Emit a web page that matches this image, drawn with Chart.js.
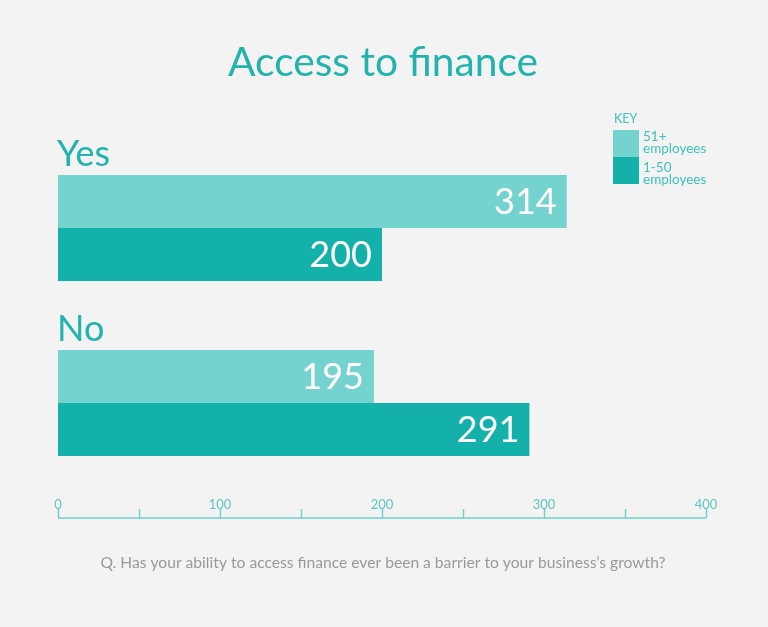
<!DOCTYPE html>
<html>
<head>
<meta charset="utf-8">
<script src="https://cdn.jsdelivr.net/npm/chart.js@4.4.1/dist/chart.umd.min.js"></script>
<style>
html,body{margin:0;padding:0;background:#f3f3f3;}
#wrap{position:relative;width:768px;height:627px;}
</style>
</head>
<body>
<div id="wrap"><canvas id="c" width="768" height="627"></canvas></div>
<script>
const categories = ["Yes", "No"];
const seriesNames = ["51+ employees", "1-50 employees"];
const large = [314, 195];
const small = [200, 291];
const tickValues = [0, 100, 200, 300, 400];
const minorTickValues = [50, 150, 250, 350];
const titleText = "Access to finance";
const footerText = "Q. Has your ability to access finance ever been a barrier to your business\u2019s growth?";

const LIGHT = "#74d3ce";
const DARK = "#14b1ab";
const TEAL = "#22b3ad";
const FONT = "Lato, 'Noto Sans', sans-serif";

function fitFont(ctx, text, width, weight) {
  let size = 40;
  ctx.font = weight + " " + size + "px " + FONT;
  const w = ctx.measureText(text).width;
  return size * width / w;
}

const decor = {
  id: "decor",
  afterDatasetsDraw(chart) {
    const ctx = chart.ctx;
    const xs = chart.scales.x;
    ctx.save();
    // title
    ctx.fillStyle = TEAL;
    let fs = fitFont(ctx, titleText, 310, 400);
    ctx.font = "400 " + fs + "px " + FONT;
    ctx.textAlign = "center";
    ctx.textBaseline = "alphabetic";
    ctx.fillText(titleText, 383, 76);

    // category labels
    const meta0 = chart.getDatasetMeta(0);
    ctx.textAlign = "left";
    ctx.font = "400 36px " + FONT;
    categories.forEach((c, i) => {
      const bar = meta0.data[i];
      const top = bar.y - bar.height / 2;
      ctx.fillText(c, xs.getPixelForValue(0) - 1, top - 9);
    });

    // value labels
    ctx.fillStyle = "#ffffff";
    ctx.textAlign = "right";
    ctx.textBaseline = "middle";
    ctx.font = "400 36px " + FONT;
    chart.data.datasets.forEach((ds, di) => {
      const meta = chart.getDatasetMeta(di);
      meta.data.forEach((bar, i) => {
        ctx.fillText(String(ds.data[i]), bar.x - 10, bar.y + 1);
      });
    });

    // axis
    const axisY = 518;
    ctx.strokeStyle = "#6fcfca";
    ctx.lineWidth = 1.5;
    ctx.beginPath();
    ctx.moveTo(xs.getPixelForValue(0), axisY);
    ctx.lineTo(xs.getPixelForValue(400), axisY);
    ctx.stroke();
    tickValues.concat(minorTickValues).forEach(v => {
      const x = Math.round(xs.getPixelForValue(v)) + 0.5;
      ctx.beginPath();
      ctx.moveTo(x, axisY);
      ctx.lineTo(x, axisY - 9);
      ctx.stroke();
    });
    ctx.fillStyle = "#5cc6c0";
    ctx.textAlign = "center";
    ctx.textBaseline = "alphabetic";
    ctx.font = "400 13px " + FONT;
    tickValues.forEach(v => {
      ctx.fillText(String(v), xs.getPixelForValue(v), 509);
    });

    // legend
    ctx.fillStyle = "#3fc0ba";
    ctx.textAlign = "left";
    ctx.font = "400 12.5px " + FONT;
    ctx.fillText("KEY", 614, 123);
    ctx.fillStyle = LIGHT;
    ctx.fillRect(613, 130, 26, 27);
    ctx.fillStyle = DARK;
    ctx.fillRect(613, 157, 26, 27);
    ctx.fillStyle = "#3fc0ba";
    ctx.font = "400 13.5px " + FONT;
    ctx.fillText("51+", 643, 141);
    ctx.fillText("employees", 643, 153);
    ctx.fillText("1-50", 643, 172);
    ctx.fillText("employees", 643, 184);

    // footer
    ctx.fillStyle = "#999999";
    ctx.textAlign = "center";
    fs = fitFont(ctx, footerText, 566, 400);
    ctx.font = "400 " + fs + "px " + FONT;
    ctx.fillText(footerText, 383, 568);
    ctx.restore();
  }
};

new Chart(document.getElementById("c"), {
  type: "bar",
  data: {
    labels: categories,
    datasets: [
      { label: seriesNames[0], data: large, backgroundColor: LIGHT },
      { label: seriesNames[1], data: small, backgroundColor: DARK }
    ]
  },
  options: {
    indexAxis: "y",
    responsive: false,
    animation: false,
    layout: { padding: { left: 58, right: 62, top: 140.5, bottom: 136.5 } },
    datasets: { bar: { categoryPercentage: 0.606, barPercentage: 1.0 } },
    scales: {
      x: { display: false, min: 0, max: 400 },
      y: { display: false }
    },
    plugins: {
      legend: { display: false },
      tooltip: { enabled: false },
      title: { display: false }
    }
  },
  plugins: [decor]
});
</script>
</body>
</html>
